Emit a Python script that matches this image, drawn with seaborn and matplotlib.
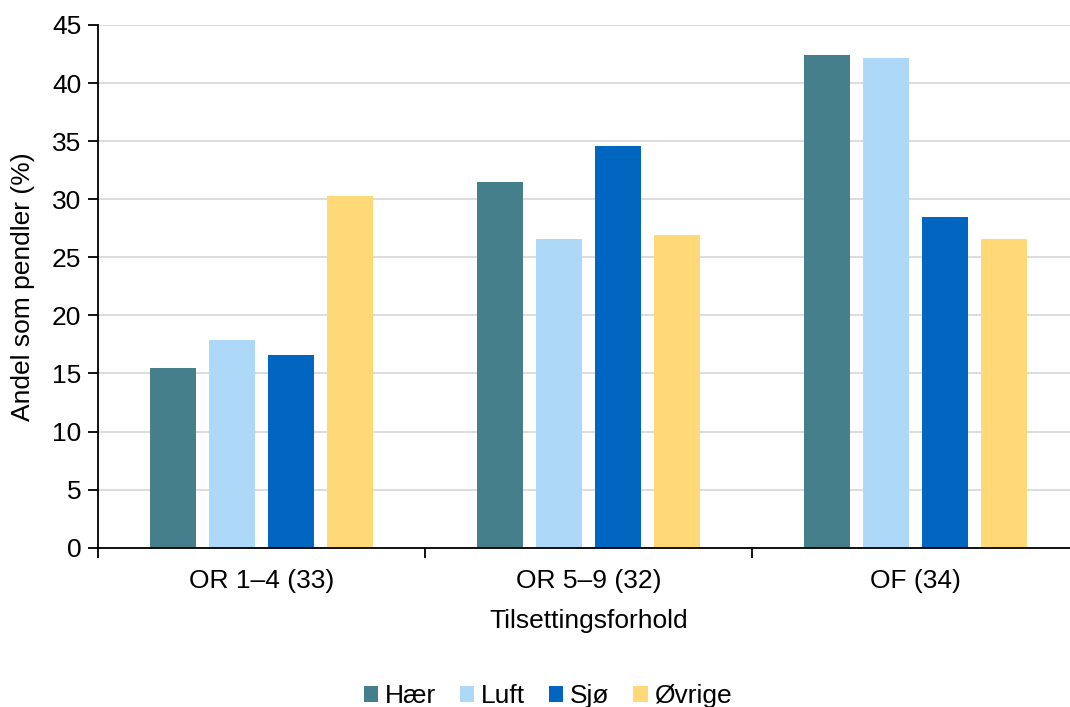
import matplotlib
matplotlib.use("Agg")
import matplotlib.pyplot as plt
from matplotlib.patches import Patch
import seaborn as sns
import pandas as pd

categories = ["OR 1–4 (33)", "OR 5–9 (32)", "OF (34)"]
branches = ["Hær", "Luft", "Sjø", "Øvrige"]
haer = [15.5, 31.5, 42.4]
luft = [17.9, 26.6, 42.2]
sjo = [16.6, 34.6, 28.5]
ovrige = [30.3, 26.9, 26.6]
colors = ["#467F8C", "#ADD8F7", "#0066BF", "#FFD878"]

rows = []
for name, vals in zip(branches, [haer, luft, sjo, ovrige]):
    for cat, v in zip(categories, vals):
        rows.append({"Tilsettingsforhold": cat, "Gren": name, "Andel": v})
df = pd.DataFrame(rows)

sns.set_theme(style="white")
plt.rcParams["font.family"] = ["Liberation Sans", "DejaVu Sans"]
plt.rcParams["text.color"] = "black"
plt.rcParams["axes.labelcolor"] = "black"
plt.rcParams["xtick.color"] = "black"
plt.rcParams["ytick.color"] = "black"

FS = 19

fig = plt.figure(figsize=(10.7, 7.07), dpi=100)
ax = fig.add_axes([98 / 1070, 1 - 547.7 / 707, 981 / 1070, (547.7 - 25) / 707])

sns.barplot(data=df, x="Tilsettingsforhold", y="Andel", hue="Gren",
            order=categories, hue_order=branches, palette=colors,
            width=0.72, gap=0.22, saturation=1, legend=False, ax=ax,
            edgecolor="none")

ax.set_ylim(0, 45)
ax.set_xlim(-0.5, 2.5)
ax.set_yticks(range(0, 46, 5))
ax.yaxis.grid(True, color="#D9D9D9", linewidth=1.3)
ax.set_axisbelow(True)

for side in ["top", "right"]:
    ax.spines[side].set_visible(False)
for side in ["left", "bottom"]:
    ax.spines[side].set_color("black")
    ax.spines[side].set_linewidth(1.3)

ax.tick_params(axis="y", which="major", direction="out", length=7, width=1.3,
               color="black", labelsize=FS, pad=5, left=True)
ax.tick_params(axis="x", which="major", length=0, labelsize=FS, pad=15)
ax.set_xticks([-0.5, 0.5, 1.5, 2.5], minor=True)
ax.tick_params(axis="x", which="minor", direction="out", length=7, width=1.3,
               color="black", bottom=True)

ax.set_xlabel("Tilsettingsforhold", fontsize=FS, labelpad=12)
ax.set_ylabel("Andel som pendler (%)", fontsize=FS, labelpad=12)

handles = [Patch(facecolor=c, edgecolor="none") for c in colors]
fig.legend(handles, branches, loc="lower center", ncol=4, frameon=False,
           fontsize=FS, handlelength=0.55, handleheight=0.55,
           handletextpad=0.25, columnspacing=0.9,
           bbox_to_anchor=(0.512, -0.035))

fig.savefig("out.png", dpi=100)
